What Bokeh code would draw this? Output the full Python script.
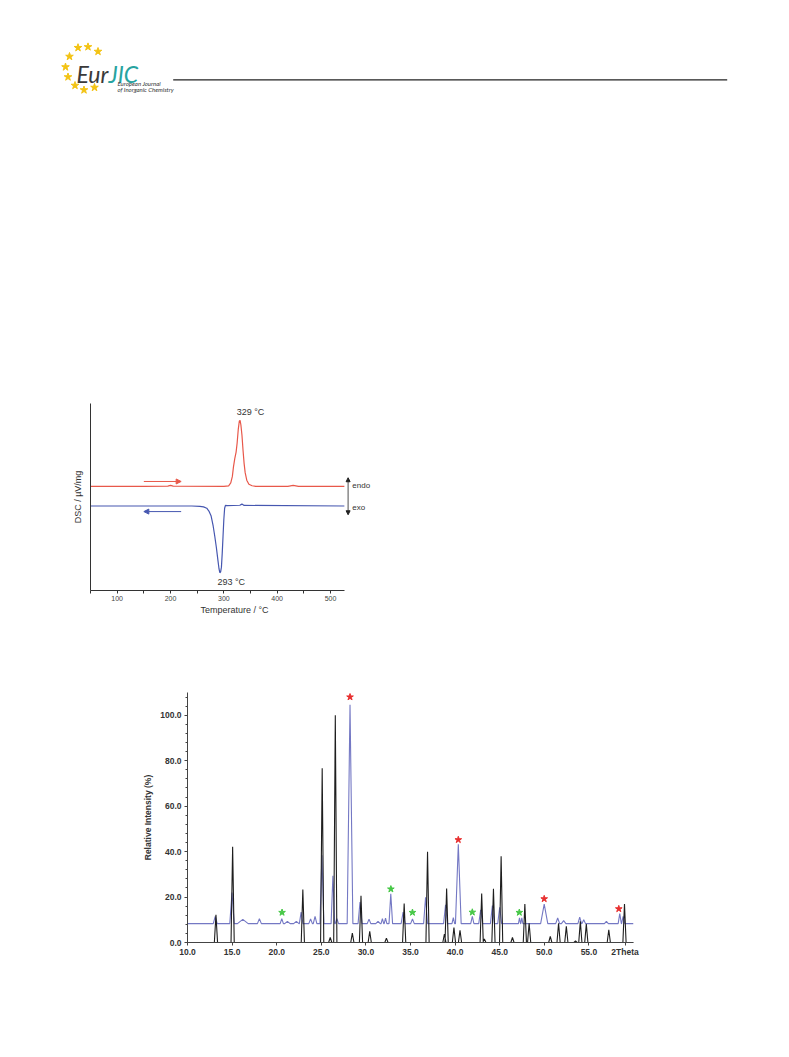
from bokeh.plotting import figure
from bokeh.models import (Range1d, Arrow, NormalHead, Label, FixedTicker,
                          Spacer, NumeralTickFormatter)
from bokeh.layouts import column, row
from bokeh.embed import file_html
from bokeh.resources import INLINE
from bokeh.core.properties import value

# ---------------- DSC data ----------------
heat_T = [50, 150, 195, 200, 205, 300, 309, 313, 316, 318, 320.5, 323, 325, 327, 329,
          330.5, 332, 334, 336, 338, 340, 343, 347, 353, 360, 420, 430, 440, 526]
heat_v = [5.57, 5.57, 5.58, 5.62, 5.58, 5.57, 5.60, 5.75, 6.10, 6.60, 7.05, 7.40, 7.90, 8.60, 9.05,
          9.10, 8.85, 8.30, 7.50, 6.80, 6.30, 5.90, 5.68, 5.60, 5.57, 5.57, 5.62, 5.57, 5.57]
cool_T = [50, 240, 255, 262, 268, 272, 276, 280, 283, 286, 289, 291, 292.5, 294, 295.5,
          297, 298.5, 300, 301.5, 303, 306, 330, 334, 338, 526]
cool_v = [4.52, 4.52, 4.50, 4.47, 4.40, 4.25, 4.00, 3.45, 2.90, 2.30, 1.60, 1.15, 0.95, 1.00, 1.25,
          2.00, 2.90, 3.80, 4.40, 4.55, 4.54, 4.56, 4.62, 4.55, 4.52]
peak_labels = ["329 °C", "293 °C"]
peak_T = [329, 293]
peak_label_v = [9.55, 0.45]
heat_arrow = [150, 220, 5.83]   # start T, end T, level
cool_arrow = [220, 150, 4.22]
dsc_ticks = [100, 200, 300, 400, 500]
dsc_minor = [50, 150, 250, 350, 450]

# ---------------- XRD data ----------------
calc_pos = [13.19, 15.06, 22.93, 25.10, 26.00, 26.57, 28.48, 29.45, 30.43, 32.30, 34.29, 36.91,
            38.80, 39.05, 39.87, 40.55, 42.98, 43.28, 44.30, 45.16, 46.43, 47.82, 48.30, 50.67,
            51.60, 52.47, 53.50, 54.04, 54.71, 57.23, 58.99]
calc_int = [12.2, 42.1, 23.3, 76.7, 2.2, 100.0, 4.1, 20.6, 4.9, 1.9, 17.1, 39.9,
            3.7, 23.7, 6.6, 5.4, 21.5, 1.6, 23.6, 38.0, 2.2, 16.9, 8.5, 2.7,
            8.5, 7.1, 0.7, 9.3, 8.1, 5.6, 16.9]
obs_pos = [13.11, 14.99, 16.20, 18.06, 20.57, 21.20, 22.20, 22.74, 23.80, 24.30, 25.07, 26.30,
           26.75, 28.22, 29.34, 30.35, 31.36, 31.85, 32.20, 32.79, 34.17, 35.22, 36.69, 38.93,
           39.80, 40.36, 41.93, 42.87, 44.18, 45.00, 47.22, 47.48, 49.99, 51.50, 52.17, 53.97,
           54.42, 56.96, 58.46, 58.84]
obs_int = [11.5, 22.0, 10.2, 10.5, 10.5, 9.3, 9.3, 13.4, 10.4, 11.5, 38.4, 29.4,
           10.5, 104.6, 17.8, 10.3, 9.3, 10.5, 10.7, 21.4, 13.4, 10.4, 19.9, 16.6,
           11.0, 43.2, 11.5, 14.4, 16.2, 15.5, 10.8, 10.8, 16.9, 10.8, 9.6, 11.2,
           10.0, 9.3, 12.7, 11.5]
obs_hw = [0.22, 0.25, 0.60, 0.22, 0.18, 0.30, 0.30, 0.20, 0.20, 0.20, 0.22, 0.20,
          0.18, 0.32, 0.22, 0.20, 0.25, 0.15, 0.15, 0.20, 0.22, 0.20, 0.22, 0.22,
          0.15, 0.32, 0.18, 0.22, 0.22, 0.22, 0.12, 0.12, 0.40, 0.22, 0.25, 0.20,
          0.20, 0.22, 0.18, 0.18]
calc_hw = 0.18
obs_baseline = 8.3
red_star_x = [28.22, 40.36, 49.99, 58.35]
red_star_y = [108.0, 45.2, 19.2, 14.8]
green_star_x = [20.60, 32.80, 35.22, 41.93, 47.20]
green_star_y = [13.2, 23.5, 13.2, 13.3, 13.2]
xrd_xticks = [10, 15, 20, 25, 30, 35, 40, 45, 50, 55, 59.05]
xrd_xlabels = {59.05: "2Theta"}
xrd_yticks = [0, 20, 40, 60, 80, 100]

# ---------------- header logo ----------------
logo_star_x = [77.5, 87.5, 97.5, 69, 65, 67.5, 74.5, 83.5, 94]
logo_star_y = [47.2, 46.4, 51, 56, 66.5, 76.5, 85, 89.5, 87]

FONT = "Liberation Sans"

hdr = figure(width=773, height=100, x_range=Range1d(8, 781), y_range=Range1d(108, 8),
             x_axis_location=None, y_axis_location=None, toolbar_location=None,
             output_backend="svg", min_border=0, outline_line_color=None)
hdr.grid.visible = False
hdr.scatter(logo_star_x, logo_star_y, marker="star", size=8, color="#f3c313")
hdr.text(x=[76], y=[73.5], text=["Eur"], text_font=value("Lato"), text_font_style="italic",
         text_font_size="23px", text_color="#3a3a3a", text_baseline="alphabetic")
hdr.text(x=[108], y=[73.5], text=["JIC"], text_font=value("Lato"), text_font_style="italic",
         text_font_size="23px", text_color="#27a3a0", text_baseline="alphabetic")
hdr.text(x=[117], y=[82.5], text=["European Journal"], text_font=value("Lato"),
         text_font_style="italic", text_font_size="6px", text_color="#333333", text_baseline="middle")
hdr.text(x=[117], y=[88.5], text=["of Inorganic Chemistry"], text_font=value("Lato"),
         text_font_style="italic", text_font_size="6px", text_color="#333333", text_baseline="middle")
hdr.line([172.7, 726.7], [79.3, 79.3], color="#222222", line_width=1.2)

# ---------------- DSC figure ----------------
dsc = figure(width=324, height=237, x_range=Range1d(50, 590), y_range=Range1d(0, 10),
             toolbar_location=None, output_backend="svg",
             min_border_left=30, min_border_right=6, min_border_top=10, min_border_bottom=40,
             outline_line_color=None)
dsc.grid.visible = False
dsc.line(heat_T, heat_v, color="#e8584a", line_width=1.2)
dsc.line(cool_T, cool_v, color="#4657b0", line_width=1.2)
dsc.text(x=[t - 5 for t in peak_T], y=peak_label_v, text=peak_labels,
         text_font=value(FONT), text_font_size="9px", text_color="#333333",
         text_baseline="middle", text_align="left")
dsc.add_layout(Arrow(x_start=heat_arrow[0], x_end=heat_arrow[1], y_start=heat_arrow[2], y_end=heat_arrow[2],
                     line_color="#e8584a", line_width=1,
                     end=NormalHead(size=5, fill_color="#e8584a", line_color="#e8584a")))
dsc.add_layout(Arrow(x_start=cool_arrow[0], x_end=cool_arrow[1], y_start=cool_arrow[2], y_end=cool_arrow[2],
                     line_color="#4657b0", line_width=1,
                     end=NormalHead(size=5, fill_color="#4657b0", line_color="#4657b0")))
dsc.add_layout(Arrow(x_start=533, x_end=533, y_start=4.05, y_end=6.03,
                     line_color="#222222", line_width=0.8,
                     start=NormalHead(size=4, fill_color="#222222", line_color="#222222"),
                     end=NormalHead(size=4, fill_color="#222222", line_color="#222222")))
dsc.add_layout(Label(x=541, y=5.6, text="endo", text_font=FONT, text_font_size="8px",
                     text_color="#333333", text_baseline="middle"))
dsc.add_layout(Label(x=541, y=4.45, text="exo", text_font=FONT, text_font_size="8px",
                     text_color="#333333", text_baseline="middle"))

xa = dsc.xaxis[0]
xa.bounds = (50, 526)
xa.ticker = FixedTicker(ticks=dsc_ticks, minor_ticks=dsc_minor)
xa.axis_label = "Temperature / °C"
xa.axis_label_text_font = FONT
xa.axis_label_text_font_size = "9px"
xa.axis_label_text_font_style = "normal"
xa.axis_label_text_color = "#333333"
xa.axis_label_standoff = 1
xa.major_label_text_font = FONT
xa.major_label_text_font_size = "7px"
xa.major_label_text_color = "#444444"
xa.major_label_standoff = 2
xa.major_tick_out = 3
xa.major_tick_in = 0
xa.minor_tick_out = 3
xa.minor_tick_in = 0
xa.axis_line_color = "#333333"
xa.major_tick_line_color = "#333333"
xa.minor_tick_line_color = "#333333"

ya = dsc.yaxis[0]
ya.ticker = FixedTicker(ticks=[], minor_ticks=[])
ya.major_tick_out = 0
ya.major_tick_in = 0
ya.minor_tick_out = 0
ya.minor_tick_in = 0
ya.major_label_standoff = 0
ya.axis_label = "DSC / µV/mg"
ya.axis_label_text_font = FONT
ya.axis_label_text_font_size = "9px"
ya.axis_label_text_font_style = "normal"
ya.axis_label_text_color = "#333333"
ya.axis_label_standoff = 8
ya.axis_line_color = "#333333"

# ---------------- XRD figure ----------------
def profile(pos, inten, hw, base, x0, x1):
    xs, ys = [x0], [base]
    for p, i, h in zip(pos, inten, hw):
        xs += [p - h, p, p + h]
        ys += [base, i, base]
    xs.append(x1)
    ys.append(base)
    return xs, ys

xrd = figure(width=521, height=290, x_range=Range1d(10, 60), y_range=Range1d(0, 110),
             toolbar_location=None, output_backend="svg",
             min_border_left=55, min_border_right=20, min_border_top=10, min_border_bottom=30,
             outline_line_color=None)
xrd.grid.visible = False
ox, oy = profile(obs_pos, obs_int, obs_hw, obs_baseline, 10, 60)
cx, cy = profile(calc_pos, calc_int, [calc_hw] * len(calc_pos), 0.0, 10, 60)
xrd.line(ox, oy, color="#7478c4", line_width=1.1)
xrd.line(cx, cy, color="#1e1e1e", line_width=1.1)
xrd.scatter(red_star_x, red_star_y, marker="star", size=7, color="#e83030")
xrd.scatter(green_star_x, green_star_y, marker="star", size=7, color="#47c847")

xx = xrd.xaxis[0]
xx.ticker = FixedTicker(ticks=xrd_xticks)
xx.formatter = NumeralTickFormatter(format="0.0")
xx.major_label_overrides = xrd_xlabels
xx.major_label_text_font = FONT
xx.major_label_text_font_size = "8.5px"
xx.major_label_text_font_style = "bold"
xx.major_label_text_color = "#333333"
xx.major_label_standoff = 1
xx.major_tick_out = 3
xx.major_tick_in = 0
xx.minor_tick_out = 0
xx.minor_tick_in = 0
xx.axis_line_color = "#444444"
xx.major_tick_line_color = "#444444"

yy = xrd.yaxis[0]
yy.ticker = FixedTicker(ticks=xrd_yticks, minor_ticks=list(range(0, 112, 4)))
yy.formatter = NumeralTickFormatter(format="0.0")
yy.axis_label = "Relative Intensity (%)"
yy.axis_label_text_font = FONT
yy.axis_label_text_font_size = "8.5px"
yy.axis_label_text_font_style = "bold"
yy.axis_label_text_color = "#333333"
yy.axis_label_standoff = 4
yy.major_label_text_font = FONT
yy.major_label_text_font_size = "8.5px"
yy.major_label_text_font_style = "bold"
yy.major_label_text_color = "#333333"
yy.major_label_standoff = 3
yy.major_tick_out = 3
yy.major_tick_in = 0
yy.minor_tick_out = 2
yy.minor_tick_in = 0
yy.axis_line_color = "#444444"
yy.major_tick_line_color = "#444444"
yy.minor_tick_line_color = "#444444"

inner = column(
    hdr,
    Spacer(width=10, height=285),
    row(Spacer(width=52, height=10), dsc),
    Spacer(width=10, height=52),
    row(Spacer(width=124, height=10), xrd),
)
layout = column(Spacer(width=10, height=8), row(Spacer(width=8, height=10), inner))

open("out.html", "w").write(file_html(layout, INLINE))
